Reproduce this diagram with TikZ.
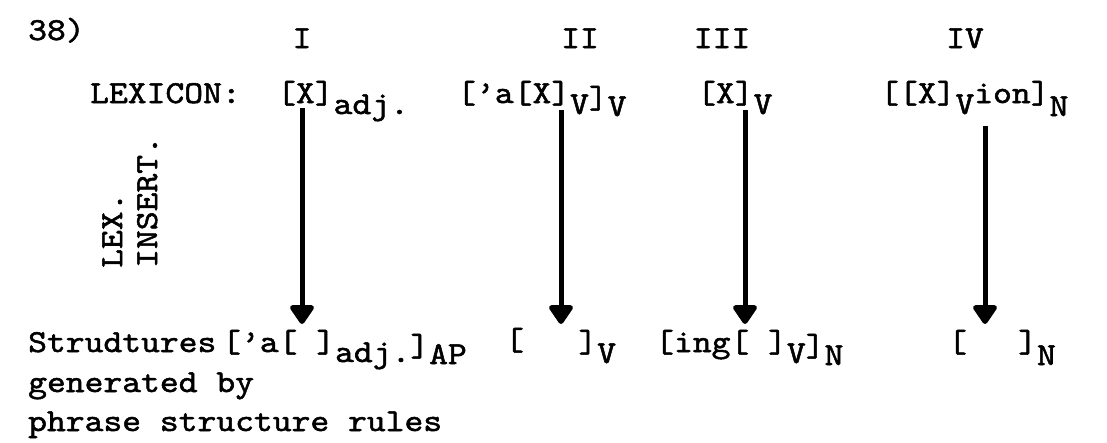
\documentclass[tikz,border=0pt]{standalone}
\usepackage{fontspec}
\setmainfont{lmmono10-regular.otf}[FakeStretch=1.12,FakeBold=1.6]
\usetikzlibrary{arrows.meta}
\newcommand{\lo}[2][11pt]{\raisebox{-#1}{#2}}
\begin{document}
\begin{tikzpicture}[x=1pt,y=-1pt,
  txt/.style={inner sep=0pt, anchor=base west, font=\fontsize{32}{38}\selectfont},
  rom/.style={inner sep=0pt, anchor=base, font=\fontsize{32}{38}\selectfont},
  side/.style={inner sep=0pt, anchor=base west, rotate=90, font=\fontsize{32}{38}\selectfont},
  bigarrow/.style={line width=5pt, -{Triangle[width=27pt,length=21pt,round]}}]
\useasboundingbox (0,0) rectangle (1107,442);
% header
\node[txt] (num) at (28,40) {38)};
\node[rom] (r1) at (302,48) {I};
\node[rom] (r2) at (580,48) {II};
\node[rom] (r3) at (722,48) {III};
\node[rom] (r4) at (965,48) {IV};
% lexicon row
\node[txt] (lex) at (90,103) {LEXICON:};
\node[txt] (l1) at (277,103) {[X]\lo{adj.}};
\node[txt] (l2) at (457,103) {[’a[X]\lo{V}\lo[5pt]{]}\lo[13pt]{V}};
\node[txt] (l3) at (697,103) {[X]\lo{V}};
\node[txt] (l4) at (880,103) {[[X]\lo{V}ion]\lo[13pt]{N}};
% side label
\node[side] (sl1) at (122,268) {LEX.};
\node[side] (sl2) at (157,268) {INSERT.};
% structures row
\node[txt] (s0) at (28,352) {Strudtures};
\node[txt] (s1) at (222,352) {[’a[ ]\lo[10pt]{adj.}\lo[4pt]{]}\lo[12pt]{AP}};
\node[txt] (s2) at (505,352) {\lo[-2pt]{[}\hspace{1.7em}]\lo{V}};
\node[txt] (s3) at (655,352) {[ing[ ]\lo{V}\lo[4pt]{]}\lo[13pt]{N}};
\node[txt] (s4) at (948,352) {[\hspace{1.6em}]\lo[13pt]{N}};
\node[txt] (g1) at (28,392) {generated by};
\node[txt] (g2) at (28,431) {phrase structure rules};
% arrows
\coordinate (a1s) at (302,108); \coordinate (a1e) at (302,324);
\coordinate (a2s) at (561,110); \coordinate (a2e) at (561,324);
\coordinate (a3s) at (745,110); \coordinate (a3e) at (745,324);
\coordinate (a4s) at (985,126); \coordinate (a4e) at (985,324);
\draw[bigarrow] (a1s) -- (a1e);
\draw[bigarrow] (a2s) -- (a2e);
\draw[bigarrow] (a3s) -- (a3e);
\draw[bigarrow] (a4s) -- (a4e);
\end{tikzpicture}
\end{document}
